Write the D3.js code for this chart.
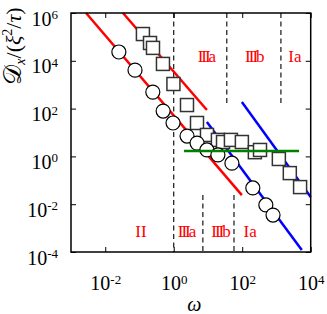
<!DOCTYPE html>
<html>
<head>
<meta charset="utf-8">
<script src="https://cdn.jsdelivr.net/npm/d3@7"></script>
<style>
  body { margin: 0; background: #fff; }
  text { font-family: "Liberation Serif", "DejaVu Serif", serif; }
</style>
</head>
<body>
<div id="chart"></div>
<script>
// Datos: circulos y cuadrados (omega, D)
const circleW = [0.025, 0.074, 0.245, 0.49, 0.955, 2.45, 4.8, 9.3, 19.5, 50, 204, 490, 794]
const circleD = [23400, 4070, 490, 79, 25, 7.1, 3.6, 1.86, 1.15, 0.52, 0.048, 0.0093, 0.0035]
const squareW = [0.126, 0.203, 0.248, 0.485, 0.98, 2.44, 4.78, 9.35, 19.5, 27.5, 46.8, 97.7, 234, 331, 1175, 2455, 4900]
const squareD = [131800, 55600, 34700, 7400, 1070, 141, 25, 7.9, 4.9, 4.0, 4.9, 4.0, 1.5, 1.86, 0.78, 0.20, 0.052]

// Rectas de ajuste
const redLines = [
    [[0.00275, 1e6], [97.7, 0.024]],
    [[0.033, 1e6], [9.3, 87]]
]
const blueLines = [
    [[9.3, 27.5], [5500, 1.2e-4]],
    [[97.7, 190], [1e4, 0.02]]
]
const greenLine = [[2, 1.7], [4570, 1.7]]

// Limites de regiones
const fullDash = [1]
const upperDash = [35.5, 1350]
const lowerDash = [7.1, 57.5]
const upperDashEnd = 170
const lowerDashStart = 0.024

const upperLabels = [["III", "a", 9.3], ["III", "b", 234], ["I", "a", 3470]]
const lowerLabels = [["II", "", 0.11], ["III", "a", 2.44], ["III", "b", 24], ["I", "a", 170]]
const upperLabelD = 8900
const lowerLabelD = 4.3e-4

const xTicks = [1e-2, 1, 1e2, 1e4]
const yTicks = [1e-4, 1e-2, 1, 1e2, 1e4, 1e6]

//Constantes
const width = 327
const height = 314
const margin = { top: 13, bottom: 62, left: 71, right: 16.3 }

const svg = d3.select("#chart")
    .append("svg")
    .attr("width", width)
    .attr("height", height)

//Escalas
const x = d3.scaleLog().domain([1e-3, 1e4]).range([margin.left, width - margin.right])
const y = d3.scaleLog().domain([1e-4, 1e6]).range([height - margin.bottom, margin.top])

const exp = d => Math.round(Math.log10(d))

// Ejes con ticks hacia dentro
const xAxisGroup = svg.append("g")
    .attr("transform", `translate(0, ${height - margin.bottom})`)
    .call(d3.axisBottom(x).tickValues(xTicks).tickSize(-5).tickFormat(""))
const yAxisGroup = svg.append("g")
    .attr("transform", `translate(${margin.left}, 0)`)
    .call(d3.axisLeft(y).tickValues(yTicks).tickSize(-5).tickPadding(13).tickFormat(""))
svg.append("g")
    .attr("transform", `translate(0, ${margin.top})`)
    .call(d3.axisTop(x).tickValues(xTicks).tickSize(-5).tickFormat(""))
svg.append("g")
    .attr("transform", `translate(${width - margin.right}, 0)`)
    .call(d3.axisRight(y).tickValues(yTicks).tickSize(-5).tickFormat(""))

svg.selectAll(".domain").remove()
svg.selectAll(".tick line").attr("stroke", "#000").attr("stroke-width", 1)

function powLabel(sel, d) {
    sel.append("tspan").text("10")
    sel.append("tspan").attr("dy", "-0.5em").attr("font-size", "13px").text(exp(d))
}

xAxisGroup.selectAll(".tick").each(function(d) {
    const t = d3.select(this).select("text")
        .attr("font-size", "20px").attr("fill", "#000")
        .attr("y", 38).attr("dy", null).attr("text-anchor", "middle")
    powLabel(t, d)
})
yAxisGroup.selectAll(".tick").each(function(d) {
    const t = d3.select(this).select("text")
        .attr("font-size", "20px").attr("fill", "#000")
        .attr("y", 12).attr("dy", null).attr("text-anchor", "end")
    powLabel(t, d)
})

const line = d3.line().x(d => x(d[0])).y(d => y(d[1]))

// Lineas discontinuas
const dashGroup = svg.append("g")
    .attr("stroke", "#000").attr("stroke-width", 1.1).attr("stroke-dasharray", "5,3.5")
fullDash.forEach(w => dashGroup.append("path").attr("d", line([[w, 1e6], [w, 1e-4]])))
upperDash.forEach(w => dashGroup.append("path").attr("d", line([[w, 1e6], [w, upperDashEnd]])))
lowerDash.forEach(w => dashGroup.append("path").attr("d", line([[w, lowerDashStart], [w, 1e-4]])))

// Rectas rojas y azules
redLines.forEach(l => svg.append("path").attr("d", line(l))
    .attr("stroke", "#ff0000").attr("stroke-width", 2.5).attr("fill", "none"))
blueLines.forEach(l => svg.append("path").attr("d", line(l))
    .attr("stroke", "#0000ff").attr("stroke-width", 2.5).attr("fill", "none"))

// Marcadores
const squares = squareW.map((w, i) => [w, squareD[i]])
const circles = circleW.map((w, i) => [w, circleD[i]])
const s = 13
svg.append("g").selectAll("rect")
    .data(squares)
    .enter()
    .append("rect")
    .attr("x", d => x(d[0]) - s / 2)
    .attr("y", d => y(d[1]) - s / 2)
    .attr("width", s)
    .attr("height", s)
    .attr("fill", "#fff")
    .attr("stroke", "#333")
    .attr("stroke-width", 1.5)
svg.append("g").selectAll("circle")
    .data(circles)
    .enter()
    .append("circle")
    .attr("cx", d => x(d[0]))
    .attr("cy", d => y(d[1]))
    .attr("r", 7)
    .attr("fill", "#fff")
    .attr("stroke", "#000")
    .attr("stroke-width", 1.2)

svg.append("path").attr("d", line(greenLine))
    .attr("stroke", "#008000").attr("stroke-width", 2.5).attr("fill", "none")

// Marco
svg.append("rect")
    .attr("x", margin.left).attr("y", margin.top)
    .attr("width", width - margin.left - margin.right)
    .attr("height", height - margin.top - margin.bottom)
    .attr("fill", "none").attr("stroke", "#000").attr("stroke-width", 1.5)

// Etiquetas de regiones
function regionLabel(d, yVal) {
    const t = svg.append("text")
        .attr("x", x(d[2])).attr("y", y(yVal))
        .attr("text-anchor", "middle").attr("font-size", "17px").attr("fill", "#ff0000")
    t.append("tspan").attr("letter-spacing", d[0] === "III" ? "-2" : "0").text(d[0])
    t.append("tspan").text(d[1])
}
upperLabels.forEach(d => regionLabel(d, upperLabelD))
lowerLabels.forEach(d => regionLabel(d, lowerLabelD))

// Titulos de ejes
svg.append("text")
    .attr("x", x(4)).attr("y", 311)
    .attr("text-anchor", "middle").attr("font-size", "20px").attr("font-style", "italic")
    .text("ω")

const yl = svg.append("text")
    .attr("transform", "translate(21, 46) rotate(-90)")
    .attr("text-anchor", "middle").attr("font-size", "22px")
yl.append("tspan").attr("font-size", "25px").text("𝒟")
yl.append("tspan").attr("font-size", "14px").attr("font-style", "italic").attr("dy", "4").text("x")
yl.append("tspan").attr("dy", "-4").text("/(")
yl.append("tspan").attr("font-style", "italic").text("ξ")
yl.append("tspan").attr("font-size", "14px").attr("dy", "-9").text("2")
yl.append("tspan").attr("dy", "9").text("/")
yl.append("tspan").attr("font-style", "italic").text("τ")
yl.append("tspan").text(")")
</script>
</body>
</html>
